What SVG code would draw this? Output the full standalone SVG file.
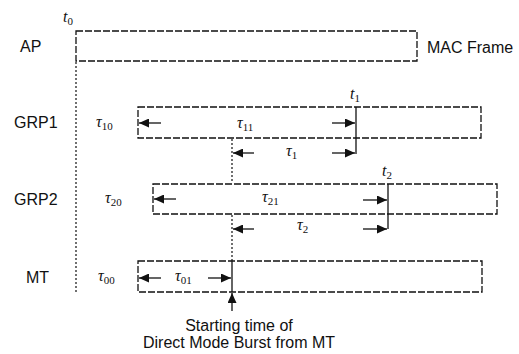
<svg xmlns="http://www.w3.org/2000/svg" width="519" height="354" viewBox="0 0 519 354">
<style>
.box{fill:none;stroke:#111;stroke-width:1.3;stroke-dasharray:7 2}
.dot{fill:none;stroke:#111;stroke-width:1.2;stroke-dasharray:2 2}
.sol{fill:none;stroke:#111;stroke-width:1.3}
.arr{fill:none;stroke:#111;stroke-width:1.3;marker-end:url(#ah)}
.lab{font-family:"Liberation Sans",Arial,sans-serif;font-size:16px;fill:#111}
.tau{font-family:"Liberation Serif","Times New Roman",serif;font-style:italic;font-size:16px;fill:#111}
.sub{font-size:11px;font-style:normal}
</style>
<defs>
<marker id="ah" markerUnits="userSpaceOnUse" markerWidth="11" markerHeight="9" refX="10" refY="4.5" orient="auto">
<path d="M0,0 L10,4.5 L0,9 Z" fill="#111"/>
</marker>
</defs>
<g id="labels">
<text class="lab" x="20" y="52">AP</text>
<text class="lab" x="14" y="128">GRP1</text>
<text class="lab" x="14" y="205">GRP2</text>
<text class="lab" x="26" y="283">MT</text>
<text class="lab" x="427" y="53">MAC Frame</text>
<text class="lab" x="239" y="331" text-anchor="middle">Starting time of</text>
<text class="lab" x="239" y="348" text-anchor="middle">Direct Mode Burst from MT</text>
</g>
<g id="AP"><rect class="box" x="76" y="31" width="341" height="30"/></g>
<g id="GRP1"><rect class="box" x="138" y="107" width="343" height="31"/></g>
<g id="GRP2"><rect class="box" x="153" y="184" width="344" height="30"/></g>
<g id="MT"><rect class="box" x="138" y="261" width="344" height="31"/></g>
<g id="connectors">
<line class="dot" x1="76" y1="62" x2="76" y2="292"/>
<line class="sol" x1="356" y1="107" x2="356" y2="154"/>
<line class="sol" x1="388" y1="184" x2="388" y2="229"/>
<line class="dot" x1="232" y1="139" x2="232" y2="183"/>
<line class="dot" x1="232" y1="215" x2="232" y2="261"/>
<line class="sol" x1="232" y1="261" x2="232" y2="292"/>
<line class="arr" x1="161" y1="123" x2="139" y2="123"/>
<line class="arr" x1="332" y1="123" x2="355" y2="123"/>
<line class="arr" x1="254" y1="153" x2="233" y2="153"/>
<line class="arr" x1="332" y1="153" x2="355" y2="153"/>
<line class="arr" x1="176" y1="199" x2="154" y2="199"/>
<line class="arr" x1="363" y1="200" x2="387" y2="200"/>
<line class="arr" x1="254" y1="229" x2="233" y2="229"/>
<line class="arr" x1="363" y1="229" x2="387" y2="229"/>
<line class="arr" x1="161" y1="278" x2="139" y2="278"/>
<line class="arr" x1="208" y1="278" x2="231" y2="278"/>
<line class="arr" x1="232" y1="311" x2="232" y2="293"/>
</g>
<g id="times">
<text class="tau" x="63" y="22">t<tspan class="sub" dy="3">0</tspan></text>
<text class="tau" x="350" y="99">t<tspan class="sub" dy="3">1</tspan></text>
<text class="tau" x="382" y="176">t<tspan class="sub" dy="3">2</tspan></text>
<text class="tau" x="96" y="127">τ<tspan class="sub" dy="3">10</tspan></text>
<text class="tau" x="237" y="128">τ<tspan class="sub" dy="3">11</tspan></text>
<text class="tau" x="286" y="156">τ<tspan class="sub" dy="3">1</tspan></text>
<text class="tau" x="105" y="203">τ<tspan class="sub" dy="3">20</tspan></text>
<text class="tau" x="262" y="202">τ<tspan class="sub" dy="3">21</tspan></text>
<text class="tau" x="297" y="230">τ<tspan class="sub" dy="3">2</tspan></text>
<text class="tau" x="98" y="281">τ<tspan class="sub" dy="3">00</tspan></text>
<text class="tau" x="175" y="281">τ<tspan class="sub" dy="3">01</tspan></text>
</g>
</svg>
